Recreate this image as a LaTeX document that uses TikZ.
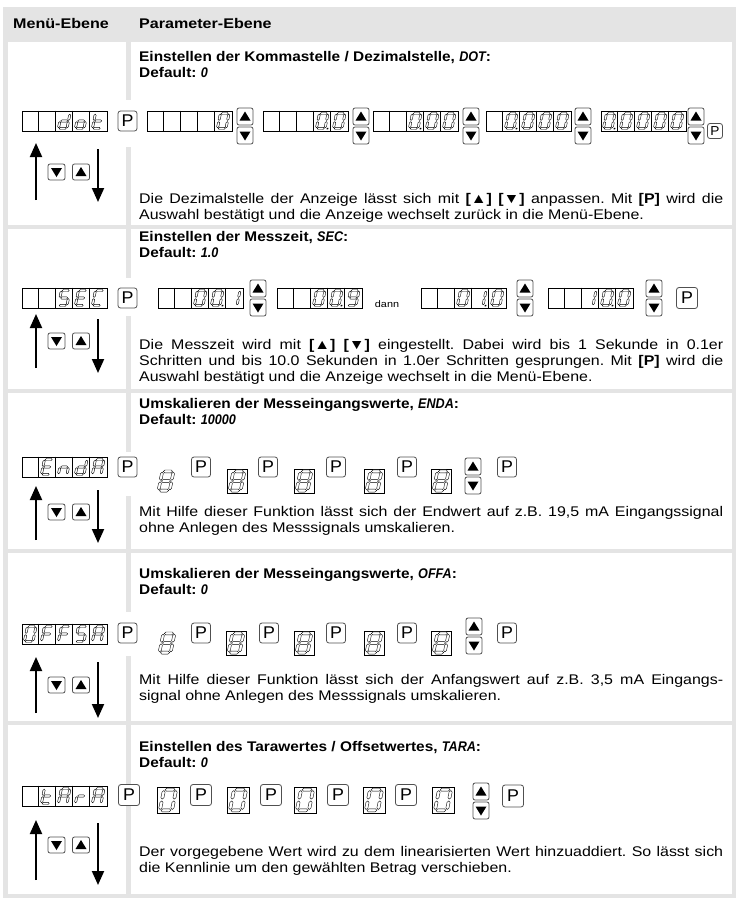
\documentclass[tikz,border=0pt]{standalone}
\usepackage{fontspec}
\setmainfont{Liberation Sans}
\newfontfamily\bodyf[FakeStretch=1.14]{Liberation Sans}
\newfontfamily\headf[FakeStretch=1.15]{Liberation Sans}
\newfontfamily\ttlf[FakeStretch=1.1]{Liberation Sans}
\newfontfamily\pf[FakeStretch=1.05]{Liberation Sans}
\newfontfamily\dispf[FakeStretch=0.9]{Liberation Sans}
\usetikzlibrary{calc,arrows.meta}
\definecolor{tblgray}{RGB}{228,228,228}
\definecolor{btn}{RGB}{80,80,80}
\newcommand\dsp[1]{{\dispf\bfseries\itshape #1}}
\newcommand\jl[1]{\makebox[584pt][s]{#1}}
% seven segment pieces (local coords, y down), hollow hexagons
\newcommand\hseg[3]{\draw[segs] (#1,#3) -- (#1+1.1,#3-1.1) -- (#2-1.1,#3-1.1) -- (#2,#3) -- (#2-1.1,#3+1.1) -- (#1+1.1,#3+1.1) -- cycle;}
\newcommand\vseg[3]{\draw[segs] (#1,#2) -- (#1+1.1,#2+1.1) -- (#1+1.1,#3-1.1) -- (#1,#3) -- (#1-1.1,#3-1.1) -- (#1-1.1,#2+1.1) -- cycle;}
\newcommand\sgA{\hseg{-3.5}{3.5}{-7.4}}
\newcommand\sgB{\vseg{4.3}{-6.8}{-0.6}}
\newcommand\sgC{\vseg{4.3}{0.6}{6.8}}
\newcommand\sgD{\hseg{-3.5}{3.5}{7.4}}
\newcommand\sgE{\vseg{-4.3}{0.6}{6.8}}
\newcommand\sgF{\vseg{-4.3}{-6.8}{-0.6}}
\newcommand\sgG{\hseg{-3.5}{3.5}{0}}
\newcommand\dgDP{\fill (6.0,8.4) rectangle (7.6,6.8);}
\newcommand\dgZero{\sgA\sgB\sgC\sgD\sgE\sgF}
\newcommand\dgOne{\sgB\sgC}
\newcommand\dgNine{\sgA\sgB\sgC\sgD\sgF\sgG}
\newcommand\dgEight{\sgA\sgB\sgC\sgD\sgE\sgF\sgG}
\newcommand\dgd{\sgB\sgC\sgD\sgE\sgG}
\newcommand\dgo{\sgC\sgD\sgE\sgG}
\newcommand\dgt{\sgD\sgE\sgF\sgG}
\newcommand\dgS{\sgA\sgF\sgG\sgC\sgD}
\newcommand\dgE{\sgA\sgF\sgG\sgE\sgD}
\newcommand\dgC{\sgA\sgF\sgE\sgD}
\newcommand\dgn{\sgC\sgE\sgG}
\newcommand\dgA{\sgA\sgB\sgC\sgE\sgF\sgG}
\newcommand\dgF{\sgA\sgE\sgF\sgG}
\newcommand\dgr{\sgE\sgG}
% 5-cell display
\newcommand\disp[3]{%
  \node[cellbox] (#1) at (#2+42.5,#3) {};
  \foreach \k in {1,2,3,4}
    \draw[cellline] ($(#1.north west)+(\k*17,0)$) -- ($(#1.south west)+(\k*17,0)$);
}
\newcommand\putdg[3]{%
  \begin{scope}[shift={($(#1.west)+(#2*17-8.5,0)$)}, xslant=0.2]
    #3
  \end{scope}}
\newcommand\bigdg[3]{%
  \begin{scope}[shift={(#1.center)}, xslant=0.2, scale=#2]
    #3
  \end{scope}}
\newcommand\updown[3]{%
  \node[abtn] (#1u) at (#2,#3-9.5) {};
  \node[abtn] (#1d) at (#2,#3+9.5) {};
  \fill ($(#1u.center)+(-5.5,4)$) -- ($(#1u.center)+(5.5,4)$) -- ($(#1u.center)+(0,-5)$) -- cycle;
  \fill ($(#1d.center)+(-5.5,-4)$) -- ($(#1d.center)+(5.5,-4)$) -- ($(#1d.center)+(0,5)$) -- cycle;
}
\newcommand\lbtns[2]{%
  \node[abtn, minimum width=17pt, minimum height=16pt] (#1d) at (56.5,#2) {};
  \node[abtn, minimum width=17pt, minimum height=16pt] (#1u) at (81,#2) {};
  \fill ($(#1u.center)+(-5.5,4)$) -- ($(#1u.center)+(5.5,4)$) -- ($(#1u.center)+(0,-5)$) -- cycle;
  \fill ($(#1d.center)+(-5.5,-4)$) -- ($(#1d.center)+(5.5,-4)$) -- ($(#1d.center)+(0,5)$) -- cycle;
}
\newcommand\larrows[5]{%
  \coordinate (#1us) at (36,#2); \coordinate (#1ue) at (36,#3);
  \coordinate (#1ds) at (98,#4); \coordinate (#1de) at (98,#5);
  \draw[bigarr] (#1us) -- (#1ue);
  \draw[bigarr] (#1ds) -- (#1de);
}
\tikzset{
  txt/.style={inner sep=0pt, anchor=base west, font=\bodyf\fontsize{14}{16}\selectfont},
  ttl/.style={inner sep=0pt, anchor=base west, font=\ttlf\bfseries\fontsize{14}{16}\selectfont},
  hdr/.style={inner sep=0pt, anchor=base west, font=\headf\bfseries\fontsize{14}{16}\selectfont},
  cellbox/.style={draw, fill=white, line width=0.6pt, minimum width=85pt, minimum height=20pt, inner sep=0pt},
  cellline/.style={line width=0.5pt},
  pbtn/.style={draw=btn, fill=white, line width=0.8pt, rounded corners=2.5pt, minimum width=19pt, minimum height=20pt, inner sep=0pt, font=\pf\fontsize{17}{17}\selectfont},
  abtn/.style={draw=btn, fill=white, line width=0.8pt, rounded corners=2pt, minimum width=16pt, minimum height=17pt, inner sep=0pt},
  digbox/.style={draw, fill=white, line width=0.6pt, minimum width=20pt, minimum height=24pt, inner sep=0pt},
  segs/.style={draw, fill=white, line width=0.4pt, line join=miter},
  bigarr/.style={line width=2pt, -{Triangle[length=14pt,width=12pt]}},
}
\begin{document}
\frenchspacing
\begin{tikzpicture}[x=1pt,y=-1pt]
\useasboundingbox (0,0) rectangle (736,900);
% table frame and cells
\fill[tblgray] (3,7) rectangle (736,898);
\fill[white] (8,42) rectangle (126,225);   \fill[white] (131,42) rectangle (732,225);
\fill[white] (8,229) rectangle (126,389);  \fill[white] (131,229) rectangle (732,389);
\fill[white] (8,393) rectangle (126,549);  \fill[white] (131,393) rectangle (732,549);
\fill[white] (8,553) rectangle (126,721);  \fill[white] (131,553) rectangle (732,721);
\fill[white] (8,725) rectangle (126,894);  \fill[white] (131,725) rectangle (732,894);
% display rows cover the column divider
\fill[white] (125,100) rectangle (132,147);
\fill[white] (125,278) rectangle (132,316);
\fill[white] (125,452) rectangle (132,496);
\fill[white] (125,612) rectangle (132,656);
% header
\node[hdr] (h1) at (13,28.5) {Menü-Ebene};
\node[hdr] (h2) at (139,28.5) {Parameter-Ebene};

% ================= Row 1 =================
\node[ttl] (t1a) at (139,61.5) {Einstellen der Kommastelle / Dezimalstelle, \dsp{DOT}:};
\node[ttl] (t1b) at (139,77.5) {Default: \dsp{0}};
\disp{L1}{22}{121}
\putdg{L1}{3}{\dgd}\putdg{L1}{4}{\dgo}\putdg{L1}{5}{\dgt}
\node[pbtn] (P1) at (127.5,121) {P};
\disp{D1a}{147}{121}
\putdg{D1a}{5}{\dgZero}
\updown{U1a}{245}{126}
\disp{D1b}{263}{121}
\putdg{D1b}{4}{\dgZero\dgDP}\putdg{D1b}{5}{\dgZero}
\updown{U1b}{361}{126}
\disp{D1c}{373}{121}
\putdg{D1c}{3}{\dgZero\dgDP}\putdg{D1c}{4}{\dgZero}\putdg{D1c}{5}{\dgZero}
\updown{U1c}{471}{126}
\disp{D1d}{486}{121}
\putdg{D1d}{2}{\dgZero\dgDP}\putdg{D1d}{3}{\dgZero}\putdg{D1d}{4}{\dgZero}\putdg{D1d}{5}{\dgZero}
\updown{U1d}{583}{126}
\disp{D1e}{601}{121}
\putdg{D1e}{1}{\dgZero\dgDP}\putdg{D1e}{2}{\dgZero}\putdg{D1e}{3}{\dgZero}\putdg{D1e}{4}{\dgZero}\putdg{D1e}{5}{\dgZero}
\updown{U1e}{696}{126}
\node[pbtn, minimum width=15pt, minimum height=15pt, font=\pf\fontsize{13}{13}\selectfont] (P1e) at (715,131) {P};
\larrows{A1}{200}{143}{149}{202}
\lbtns{B1}{172}
\node[txt] (b1a) at (139,203.5) {\jl{Die Dezimalstelle der Anzeige lässt sich mit \textbf{[▲] [▼]} anpassen. Mit \textbf{[P]} wird die}};
\node[txt] (b1b) at (139,219.5) {Auswahl bestätigt und die Anzeige wechselt zurück in die Menü-Ebene.};

% ================= Row 2 =================
\node[ttl] (t2a) at (139,241.5) {Einstellen der Messzeit, \dsp{SEC}:};
\node[ttl] (t2b) at (139,257.5) {Default: \dsp{1.0}};
\disp{L2}{22}{298}
\putdg{L2}{3}{\dgS}\putdg{L2}{4}{\dgE}\putdg{L2}{5}{\dgC}
\node[pbtn] (P2) at (127.5,298) {P};
\disp{D2a}{158}{298}
\putdg{D2a}{3}{\dgZero}\putdg{D2a}{4}{\dgZero\dgDP}\putdg{D2a}{5}{\dgOne}
\updown{U2a}{258}{298}
\disp{D2b}{277}{298}
\putdg{D2b}{3}{\dgZero}\putdg{D2b}{4}{\dgZero\dgDP}\putdg{D2b}{5}{\dgNine}
\node[inner sep=0pt, font=\bodyf\fontsize{9.5}{9.5}\selectfont] (dann) at (387,304) {dann};
\disp{D2c}{421}{298}
\putdg{D2c}{3}{\dgZero}\putdg{D2c}{4}{\dgOne\dgDP}\putdg{D2c}{5}{\dgZero}
\updown{U2c}{525}{298}
\disp{D2d}{548}{298}
\putdg{D2d}{3}{\dgOne}\putdg{D2d}{4}{\dgZero\dgDP}\putdg{D2d}{5}{\dgZero}
\updown{U2d}{654}{298}
\node[pbtn, minimum width=21pt, minimum height=21pt] (P2e) at (687,298) {P};
\larrows{A2}{368}{314}{319}{373}
\lbtns{B2}{341}
\node[txt] (b2a) at (139,349.5) {\jl{Die Messzeit wird mit \textbf{[▲] [▼]} eingestellt. Dabei wird bis 1 Sekunde in 0.1er}};
\node[txt] (b2b) at (139,365.5) {\jl{Schritten und bis 10.0 Sekunden in 1.0er Schritten gesprungen. Mit \textbf{[P]} wird die}};
\node[txt] (b2c) at (139,381.5) {Auswahl bestätigt und die Anzeige wechselt in die Menü-Ebene.};

% ================= Row 3 =================
\node[ttl] (t3a) at (139,408.5) {Umskalieren der Messeingangswerte, \dsp{ENDA}:};
\node[ttl] (t3b) at (139,424.5) {Default: \dsp{10000}};
\disp{L3}{22}{467}
\putdg{L3}{2}{\dgE}\putdg{L3}{3}{\dgn}\putdg{L3}{4}{\dgd}\putdg{L3}{5}{\dgA}
\node[pbtn] (P3) at (127.5,467) {P};
\coordinate (E3a) at (166,481);
\bigdg{E3a}{1.3}{\dgEight}
\node[pbtn] (P3a) at (201,467) {P};
\node[digbox] (E3b) at (237,481) {};
\bigdg{E3b}{1.3}{\dgEight}
\node[pbtn] (P3b) at (268,467) {P};
\node[digbox] (E3c) at (304,481) {};
\bigdg{E3c}{1.3}{\dgEight}
\node[pbtn] (P3c) at (336,467) {P};
\node[digbox] (E3d) at (374,481) {};
\bigdg{E3d}{1.3}{\dgEight}
\node[pbtn] (P3d) at (407,467) {P};
\node[digbox] (E3e) at (441,481) {};
\bigdg{E3e}{1.3}{\dgEight}
\updown{U3}{473}{476}
\node[pbtn] (P3e) at (507,467) {P};
\larrows{A3}{540}{486}{490}{543}
\lbtns{B3}{512}
\node[txt] (b3a) at (139,516.5) {\jl{Mit Hilfe dieser Funktion lässt sich der Endwert auf z.B. 19,5 mA Eingangssignal}};
\node[txt] (b3b) at (139,532.5) {ohne Anlegen des Messsignals umskalieren.};

% ================= Row 4 =================
\node[ttl] (t4a) at (139,578.5) {Umskalieren der Messeingangswerte, \dsp{OFFA}:};
\node[ttl] (t4b) at (139,594.5) {Default: \dsp{0}};
\disp{L4}{22}{634}
\putdg{L4}{1}{\dgZero}\putdg{L4}{2}{\dgF}\putdg{L4}{3}{\dgF}\putdg{L4}{4}{\dgS}\putdg{L4}{5}{\dgA}
\node[pbtn] (P4) at (127.5,633) {P};
\coordinate (E4a) at (167,643);
\bigdg{E4a}{1.3}{\dgEight}
\node[pbtn] (P4a) at (201,633) {P};
\node[digbox] (E4b) at (236,643) {};
\bigdg{E4b}{1.3}{\dgEight}
\node[pbtn] (P4b) at (269,633) {P};
\node[digbox] (E4c) at (304,643) {};
\bigdg{E4c}{1.3}{\dgEight}
\node[pbtn] (P4c) at (336,633) {P};
\node[digbox] (E4d) at (374,643) {};
\bigdg{E4d}{1.3}{\dgEight}
\node[pbtn] (P4d) at (407,633) {P};
\node[digbox] (E4e) at (441,643) {};
\bigdg{E4e}{1.3}{\dgEight}
\updown{U4}{474}{636}
\node[pbtn] (P4e) at (507,633) {P};
\larrows{A4}{713}{657}{662}{718}
\lbtns{B4}{685}
\node[txt] (b4a) at (139,684.5) {\jl{Mit Hilfe dieser Funktion lässt sich der Anfangswert auf z.B. 3,5 mA Eingangs-}};
\node[txt] (b4b) at (139,700.5) {signal ohne Anlegen des Messsignals umskalieren.};

% ================= Row 5 =================
\node[ttl] (t5a) at (139,751.5) {Einstellen des Tarawertes / Offsetwertes, \dsp{TARA}:};
\node[ttl] (t5b) at (139,767.5) {Default: \dsp{0}};
\disp{L5}{22}{796}
\putdg{L5}{2}{\dgt}\putdg{L5}{3}{\dgA}\putdg{L5}{4}{\dgr}\putdg{L5}{5}{\dgA}
\node[pbtn, minimum width=21pt, minimum height=21pt] (P5) at (129,795) {P};
\node[digbox, minimum width=22pt, minimum height=26pt] (Z5a) at (168,800) {};
\bigdg{Z5a}{1.4}{\dgZero}
\node[pbtn, minimum width=21pt, minimum height=21pt] (P5a) at (201,795) {P};
\node[digbox, minimum width=22pt, minimum height=26pt] (Z5b) at (238,800) {};
\bigdg{Z5b}{1.4}{\dgZero}
\node[pbtn, minimum width=21pt, minimum height=21pt] (P5b) at (271,795) {P};
\node[digbox, minimum width=22pt, minimum height=26pt] (Z5c) at (305,800) {};
\bigdg{Z5c}{1.4}{\dgZero}
\node[pbtn, minimum width=21pt, minimum height=21pt] (P5c) at (338,795) {P};
\node[digbox, minimum width=22pt, minimum height=26pt] (Z5d) at (374,800) {};
\bigdg{Z5d}{1.4}{\dgZero}
\node[pbtn, minimum width=21pt, minimum height=21pt] (P5d) at (406,795) {P};
\node[digbox, minimum width=22pt, minimum height=26pt] (Z5e) at (443,800) {};
\bigdg{Z5e}{1.4}{\dgZero}
\updown{U5}{481}{801}
\node[pbtn, minimum width=21pt, minimum height=22pt] (P5e) at (513,796) {P};
\larrows{A5}{880}{820}{823}{885}
\lbtns{B5}{845}
\node[txt] (b5a) at (139,856.5) {\jl{Der vorgegebene Wert wird zu dem linearisierten Wert hinzuaddiert. So lässt sich}};
\node[txt] (b5b) at (139,872.5) {die Kennlinie um den gewählten Betrag verschieben.};
\end{tikzpicture}
\end{document}
